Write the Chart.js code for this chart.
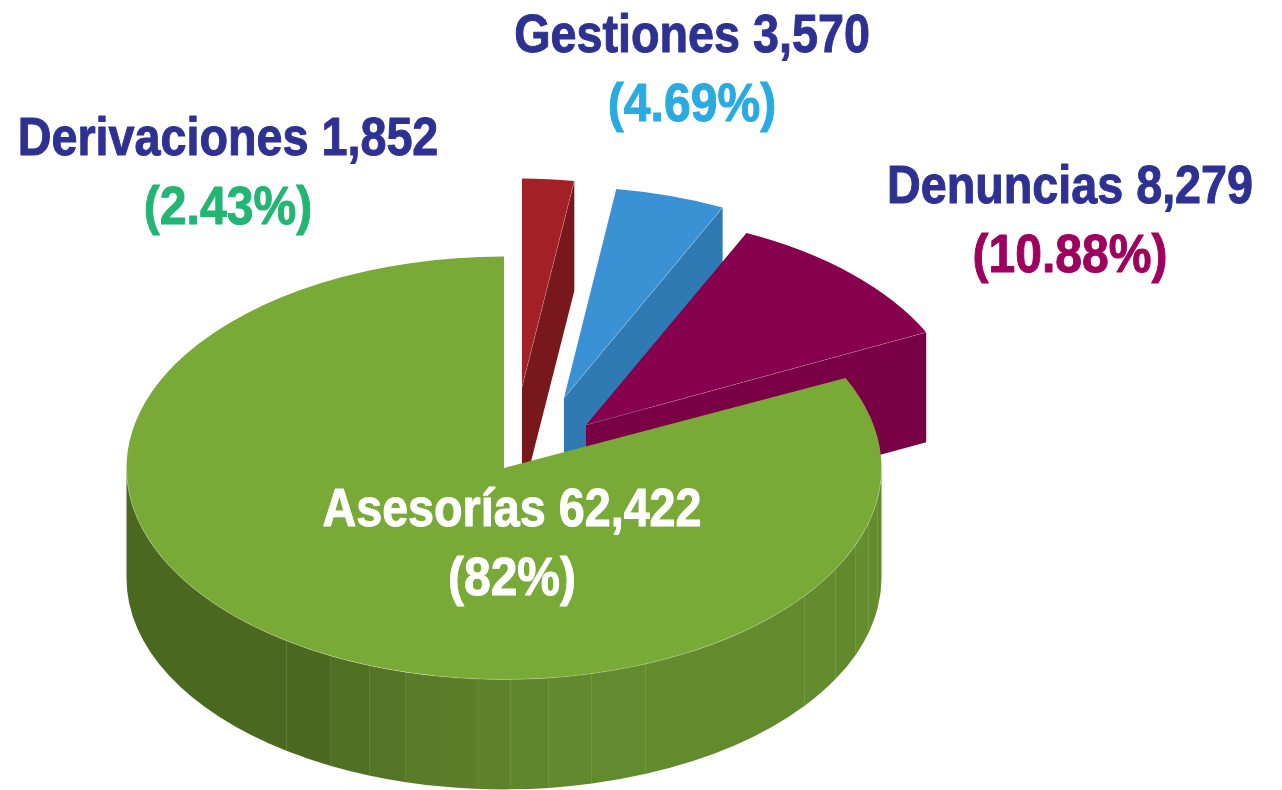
<!DOCTYPE html>
<html>
<head>
<meta charset="utf-8">
<title>Gestiones</title>
<script src="https://cdn.jsdelivr.net/npm/chart.js@4/dist/chart.umd.min.js"></script>
<style>
  html, body { margin: 0; padding: 0; background: #fff; }
  #wrap { position: relative; width: 1282px; height: 790px; overflow: hidden; }
  canvas { display: block; }
</style>
</head>
<body>
<div id="wrap"><canvas id="pie" width="1282" height="790"></canvas></div>
<script>
// data, back slice to front slice (clockwise from 12 o'clock)
const categories = ["Derivaciones", "Gestiones", "Denuncias", "Asesorías"];
const values = [1852, 3570, 8279, 62422];
const percents = ["2.43%", "4.69%", "10.88%", "82%"];

// look of the slices
const topColors = ["#a32126", "#3a91d3", "#86004d", "#79a937"];
const sideColors = ["#78171c", "#2f7ab2", "#7a0046", "#4b6820"];
const sliceShift = [[18, -81], [60, -70], [82, -43], [0, 0]];
const sliceLean = [[0, 0], [0.025, 0], [0.015, -0.008], [0, 0]]; // the pulled out slices are drawn a bit skewed
const sliceWidth = [0.91, 1, 1, 1];
const sliceTilt = [0.552, 0.56, 0.56, 0.56];
const labelColors = ["#22b573", "#29abe2", "#9e005d", "#ffffff"];
const nameColors = ["#2e3192", "#2e3192", "#2e3192", "#ffffff"];
const labelSpots = [[228, 155], [692, 52], [1070, 203], [512, 526]];

const DEPTH = 110;
const CENTER_Y = 468;
const NAME_SQUEEZE = 0.865;
const PERCENT_SQUEEZE = 0.89;

// the front wall of the big slice is cut in flat facets, x = where each one ends
const facetEnds = [287, 331, 370, 406, 440, 475, 511, 549, 592, 646, 805, 836, 856, 869, 878, 882];
const facetColors = ["#4a6820", "#4b6920", "#507024", "#547526", "#5a7b29", "#5c7e2a", "#5e822b", "#60862d", "#62892e", "#628a2e", "#638b2e", "#648c2e", "#628a2d", "#658e2f", "#648c2e", "#628a2d"];

const pie3d = {
  id: "pie3d",
  beforeDatasetDraw(chart) {
    const { ctx } = chart;
    const arcs = chart.getDatasetMeta(0).data;

    arcs.forEach((arc, i) => {
      const drop = DEPTH / sliceTilt[i];
      const back = sliceLean[i][0] * DEPTH; // keeps the side edges upright on screen
      const ex = arc.x + arc.outerRadius * Math.cos(arc.endAngle);
      const ey = arc.y + arc.outerRadius * Math.sin(arc.endAngle);

      ctx.save();
      ctx.translate(arc.x + sliceShift[i][0], CENTER_Y + sliceShift[i][1]);
      ctx.transform(1, sliceLean[i][1], sliceLean[i][0], 1, 0, 0);
      ctx.scale(sliceWidth[i], sliceTilt[i]);
      ctx.translate(-arc.x, -arc.y);

      if (i < 3) {
        // cut face along the end of the slice
        ctx.fillStyle = sideColors[i];
        ctx.beginPath();
        ctx.moveTo(arc.x, arc.y);
        ctx.lineTo(ex, ey);
        ctx.lineTo(ex - back, ey + drop);
        ctx.lineTo(arc.x - back, arc.y + drop);
        ctx.closePath();
        ctx.fill();
      } else {
        // curved wall, one piece per facet
        let from = Math.PI;
        facetEnds.forEach((x, k) => {
          const to = Math.acos(Math.min(1, (x - arc.x) / arc.outerRadius));
          ctx.fillStyle = facetColors[k];
          ctx.beginPath();
          ctx.arc(arc.x, arc.y, arc.outerRadius, to, from);
          ctx.arc(arc.x, arc.y + drop, arc.outerRadius, from, to, true);
          ctx.closePath();
          ctx.fill();
          if (k < facetEnds.length - 1 && k !== 4 && k !== 5) {
            ctx.strokeStyle = "rgba(255,255,255,0.28)";
            ctx.lineWidth = 1;
            ctx.beginPath();
            ctx.moveTo(x, arc.y + arc.outerRadius * Math.sin(to));
            ctx.lineTo(x, arc.y + drop + arc.outerRadius * Math.sin(to));
            ctx.stroke();
          }
          from = to;
        });
      }
      arc.draw(ctx);

      // pale seam where top and side meet
      ctx.strokeStyle = "rgba(255,255,255,0.3)";
      ctx.lineWidth = 1;
      ctx.beginPath();
      if (i < 3) {
        ctx.moveTo(arc.x, arc.y);
        ctx.lineTo(ex, ey);
      } else {
        ctx.arc(arc.x, arc.y, arc.outerRadius, 0, Math.PI);
      }
      ctx.stroke();
      ctx.restore();
    });
    return false;
  },
  afterDraw(chart) {
    const { ctx } = chart;
    const squeezed = (text, x, y, squeeze) => {
      ctx.save();
      ctx.translate(x, y);
      ctx.scale(squeeze, 1);
      ctx.strokeText(text, 0, 0);
      ctx.fillText(text, 0, 0);
      ctx.restore();
    };
    ctx.save();
    ctx.textAlign = "center";
    ctx.textBaseline = "alphabetic";
    ctx.lineJoin = "round";
    ctx.lineWidth = 1;
    ctx.font = "bold 54px 'Liberation Sans'";
    categories.forEach((name, i) => {
      const [x, y] = labelSpots[i];
      ctx.fillStyle = ctx.strokeStyle = nameColors[i];
      squeezed(name + " " + values[i].toLocaleString("en-US"), x, y, NAME_SQUEEZE);
      ctx.fillStyle = ctx.strokeStyle = labelColors[i];
      squeezed("(" + percents[i] + ")", x, y + 69, PERCENT_SQUEEZE);
    });
    ctx.restore();
  },
};

new Chart(document.getElementById("pie"), {
  type: "pie",
  data: {
    labels: categories,
    datasets: [{ data: values, backgroundColor: topColors, borderWidth: 0, hoverOffset: 0 }],
  },
  options: {
    responsive: false,
    animation: false,
    events: [],
    layout: { padding: { top: 17.5, bottom: 17.5, right: 274 } },
    plugins: { legend: { display: false }, tooltip: { enabled: false } },
  },
  plugins: [pie3d],
});
</script>
</body>
</html>
